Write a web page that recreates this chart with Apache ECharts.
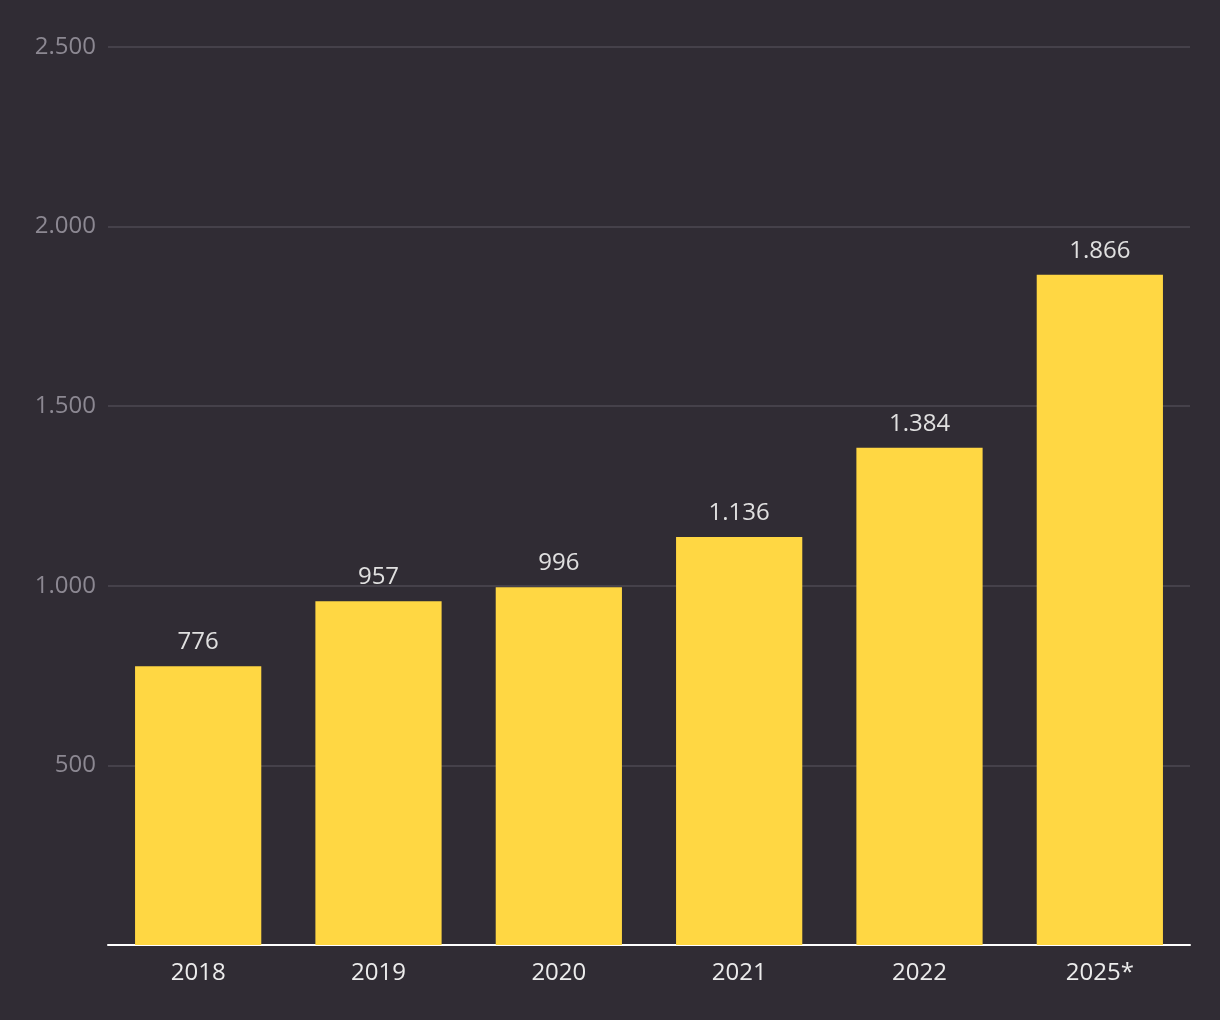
<!DOCTYPE html>
<html><head><meta charset="utf-8">
<style>html,body{margin:0;padding:0;background:#302c34;}#c{width:1220px;height:1020px;}</style>
<script src="https://cdn.jsdelivr.net/npm/echarts@6/dist/echarts.min.js"></script>
</head><body><div id="c"></div>
<script>
const categories = ['2018','2019','2020','2021','2022','2025*'];
const values = [776, 957, 996, 1136, 1384, 1866];
const yTicks = [0, 500, 1000, 1500, 2000, 2500];

function fmt(v){ return String(v).replace(/\B(?=(\d{3})+(?!\d))/g, '.'); }

const chart = echarts.init(document.getElementById('c'));
chart.setOption({
  backgroundColor: '#302c34',
  animation: false,
  grid: {left: 108, right: 30, top: 47, bottom: 75},
  xAxis: {
    type: 'category', data: categories,
    axisLine: {lineStyle: {color: '#ffffff', width: 2}},
    axisTick: {show: false},
    axisLabel: {color: '#ececec', fontSize: 24, fontFamily: 'Open Sans', margin: 16}
  },
  yAxis: {
    type: 'value', min: 0, max: 2500, interval: 500,
    axisLine: {show: false}, axisTick: {show: false},
    splitLine: {lineStyle: {color: '#4c4852', width: 1.5}},
    axisLabel: {color: '#8c8892', fontSize: 24, fontFamily: 'Open Sans', margin: 12,
      padding: [4, 0, 0, 0], formatter: v => v === 0 ? '' : fmt(v)}
  },
  series: [{
    type: 'bar', data: values, barWidth: '70%',
    itemStyle: {color: '#ffd743'},
    label: {show: true, position: 'top', distance: 12, color: '#e0e0e0', fontSize: 24,
      fontFamily: 'Open Sans', formatter: p => fmt(p.value)}
  }]
});
</script></body></html>
